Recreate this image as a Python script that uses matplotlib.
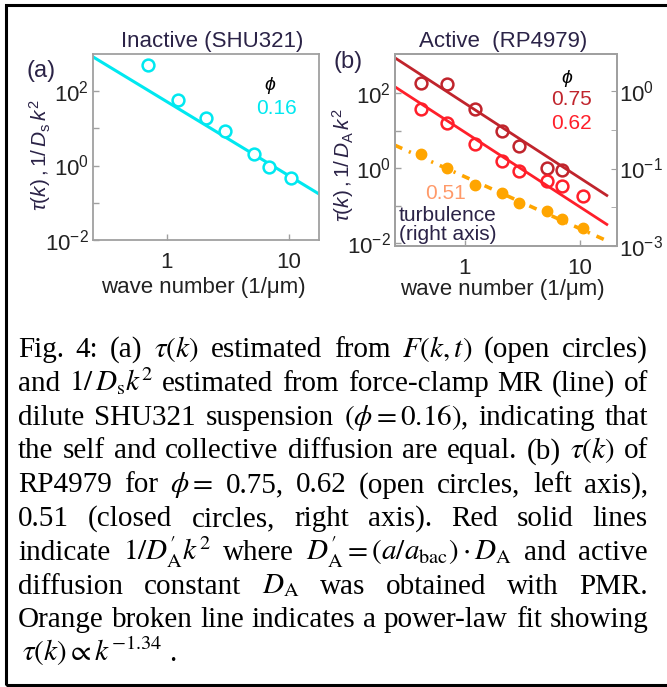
import numpy as np
import matplotlib
matplotlib.use('Agg')
from matplotlib import pyplot as plt
from matplotlib.patches import Rectangle
from matplotlib.ticker import NullLocator

# panel (a): inactive SHU321, phi = 0.16
k_a = [0.70, 1.23, 2.11, 3.0, 5.2, 6.9, 10.3]
tau_a = [516, 57, 18.6, 8.7, 2.07, 0.94, 0.45]
amp_a = 53.0          # 1/(Ds k^2) at k = 1

# panel (b): active RP4979
k_b = [0.42, 0.70, 1.22, 2.10, 2.98, 5.2, 6.9, 10.5]
tau_075 = [186, 174, 38, 9.8, 4.0, 1.04, 0.90]
tau_062 = [37.6, 16.5, 4.45, 1.54, 0.85, 0.46, 0.34, 0.18]
tau_051 = [0.156, 0.101, 0.061, 0.048, 0.036, 0.028, 0.022, 0.017]   # right axis
amp_075 = 55.0
amp_062 = 9.3
fit_amp = 0.0785
fit_exp = -0.675

x_ticks = [1, 10]
x_labels = ['1', '10']
left_ticks = [1e-2, 1e0, 1e2]
left_labels = ['$10^{-2}$', '$10^{0}$', '$10^{2}$']
left_minor = [1e-1, 1e1]
right_ticks = [1e-2, 1e-1, 1e0]
right_labels = ['$10^{-3}$', '$10^{-1}$', '$10^{0}$']
right_minor = [10 ** -1.5, 10 ** -0.5]

caption = [
    ['Fig.', '4:', '(a)', r'$\tau(k)$', 'estimated', 'from', r'$F(k,t)$', '(open', 'circles)'],
    ['and', r'$1/\,D_{\rm s}k^2$', 'estimated', 'from', 'force-clamp', 'MR', '(line)', 'of'],
    ['dilute', 'SHU321', 'suspension', r'$(\phi=0.16)$,', 'indicating', 'that'],
    ['the', 'self', 'and', 'collective', 'diffusion', 'are', 'equal.', '(b)', r'$\tau(k)$', 'of'],
    ['RP4979', 'for', r'$\phi=$', '0.75,', '0.62', '(open', 'circles,', 'left', 'axis),'],
    ['0.51', '(closed', 'circles,', 'right', 'axis).', 'Red', 'solid', 'lines'],
    ['indicate', r'$1/D_{\rm A}^{\prime}k^2$', 'where',
     r'$D_{\rm A}^{\prime}=(a/a_{\rm bac})\cdot D_{\rm A}$', 'and', 'active'],
    ['diffusion', 'constant', r'$D_{\rm A}$', 'was', 'obtained', 'with', 'PMR.'],
    ['Orange', 'broken', 'line', 'indicates', 'a', 'power-law', 'fit', 'showing'],
    [r'$\tau(k)\propto k^{-1.34}$', '.'],
]

plt.rcParams['font.family'] = ['Liberation Sans', 'DejaVu Sans']
plt.rcParams['mathtext.fontset'] = 'custom'
plt.rcParams['mathtext.rm'] = 'Liberation Sans'
plt.rcParams['mathtext.it'] = 'Liberation Sans:italic'
plt.rcParams['mathtext.bf'] = 'Liberation Sans:bold'

W, H = 667, 687
fig = plt.figure(figsize=(W / 100, H / 100), dpi=100)


def fx(x):
    return x / W


def fy(y):
    return 1 - y / H


spine_c = '#a0a0a0'
text_c = '#2b2347'
cyan = '#00e8f0'
dark_red = '#c0242c'
red = '#ff1f2a'
orange = '#ffa500'


def style(ax, ylim):
    ax.set_xscale('log')
    ax.set_yscale('log')
    ax.set_ylim(*ylim)
    ax.set_xticks(x_ticks, labels=x_labels)
    ax.xaxis.set_minor_locator(NullLocator())
    ax.set_yticks(left_ticks, labels=left_labels)
    ax.set_yticks(left_minor, minor=True)
    ax.yaxis.set_minor_formatter(plt.NullFormatter())
    for s in ax.spines.values():
        s.set_color(spine_c)
        s.set_linewidth(1.3)
    ax.tick_params(which='both', direction='in', length=4, color=spine_c,
                   labelcolor='#222222', labelsize=16, width=1.0)
    ax.tick_params(axis='x', pad=9)
    ax.tick_params(axis='y', pad=3)


# ---- panel (a)
ax_a = fig.add_axes([fx(92.7), fy(239.7), (319.3 - 92.7) / W, (239.7 - 54.3) / H])
style(ax_a, (1e-2, 1e3))
ax_a.set_xlim(0.248, 17.7)
kk = np.geomspace(0.248, 17.7, 60)
ax_a.plot(kk, amp_a / kk ** 2, color=cyan, lw=2.2)
ax_a.plot(k_a, tau_a, 'o', mfc='white', mec=cyan, ms=8.5, mew=1.8)
ax_a.text(0.782, 0.834, r'$\phi$', transform=ax_a.transAxes, ha='center', va='center',
          fontsize=14, color='black')
ax_a.text(0.813, 0.71, '0.16', transform=ax_a.transAxes, ha='center', va='center',
          fontsize=15, color=cyan)

# ---- panel (b)
ax_b = fig.add_axes([fx(395), fy(245.7), (616.7 - 395) / W, (245.7 - 54.3) / H])
style(ax_b, (10 ** -2.06, 10 ** 3.04))
ax_b.set_xlim(0.25, 20.7)
kk = np.geomspace(0.25, 17, 60)
ax_b.plot(kk, amp_075 / kk ** 2, color=dark_red, lw=2.0)
ax_b.plot(kk, amp_062 / kk ** 2, color=red, lw=2.0)
ax_b.plot(k_b[:len(tau_075)], tau_075, 'o', mfc='none', mec=dark_red, ms=8.5, mew=1.8)
ax_b.plot(k_b, tau_062, 'o', mfc='none', mec=red, ms=8.5, mew=1.8)

ax_r = ax_b.twinx()
ax_r.set_yscale('log')
ax_r.set_ylim(1e-2, 10 ** 0.48)
ax_r.set_yticks(right_ticks, labels=right_labels)
ax_r.set_yticks(right_minor, minor=True)
ax_r.yaxis.set_minor_formatter(plt.NullFormatter())
for s in ax_r.spines.values():
    s.set_color(spine_c)
    s.set_linewidth(1.3)
ax_r.tick_params(which='both', direction='in', length=4, color=spine_c,
                 labelcolor='#222222', labelsize=16, pad=2)
ax_r.plot(kk, fit_amp * kk ** fit_exp, color=orange, lw=2.6,
          linestyle=(0, (2.2, 2.0, 0.6, 2.0)))
ax_r.plot(k_b, tau_051, 'o', color=orange, ms=7.5, mec=orange)

ax_b.text(0.776, 0.871, r'$\phi$', transform=ax_b.transAxes, ha='center', va='center',
          fontsize=14, color='black')
ax_b.text(0.798, 0.766, '0.75', transform=ax_b.transAxes, ha='center', va='center',
          fontsize=15, color=dark_red)
ax_b.text(0.798, 0.641, '0.62', transform=ax_b.transAxes, ha='center', va='center',
          fontsize=15, color=red)
ax_b.text(0.23, 0.275, '0.51', transform=ax_b.transAxes, ha='center', va='center',
          fontsize=15, color='#ff9a6a')
ax_b.text(0.018, 0.16, 'turbulence', transform=ax_b.transAxes, ha='left', va='center',
          fontsize=15, color=text_c)
ax_b.text(0.018, 0.056, '(right axis)', transform=ax_b.transAxes, ha='left', va='center',
          fontsize=15, color=text_c)

# ---- titles, panel letters, axis labels
fig.text(fx(211.7), fy(41.7), 'Inactive (SHU321)', ha='center', va='center',
         fontsize=16, color=text_c)
fig.text(fx(503), fy(41.7), 'Active  (RP4979)', ha='center', va='center',
         fontsize=16, color=text_c)
fig.text(fx(41), fy(71), '(a)', ha='center', va='center', fontsize=17, color=text_c)
fig.text(fx(348), fy(62), '(b)', ha='center', va='center', fontsize=17, color=text_c)
fig.text(fx(40), fy(155), r'$\tau(k)\,,1/\,D_{\rm s}\,k^2$', rotation=90,
         ha='center', va='center', fontsize=15, color=text_c)
fig.text(fx(343), fy(165), r'$\tau(k)\,,1/\,D_{\rm A}\,k^2$', rotation=90,
         ha='center', va='center', fontsize=15, color=text_c)
fig.text(fx(203), fy(288), 'wave number (1/\u03bcm)', ha='center', va='center',
         fontsize=16, color='#222222')
fig.text(fx(502), fy(290), 'wave number (1/\u03bcm)', ha='center', va='center',
         fontsize=16, color='#222222')

# ---- frame
fig.add_artist(Rectangle((fx(5.5), fy(685.3)), 2, (685.3 - 4.7) / H,
                         transform=fig.transFigure, fill=False, ec='black',
                         lw=2.2, clip_on=False))

# ---- justified caption
fs = 21
fig.canvas.draw()
rend = fig.canvas.get_renderer()
left, right = 18, 648
for i, words in enumerate(caption):
    yb = fy(357 + i * 33.8)
    arts = [fig.text(0, yb, w, fontsize=fs, family='Liberation Serif',
                     math_fontfamily='stix', va='baseline', color='black')
            for w in words]
    widths = [a.get_window_extent(rend).width for a in arts]
    if i == len(caption) - 1:
        gap = 0.25 * fs * 100 / 72
    else:
        gap = (right - left - sum(widths)) / (len(words) - 1)
    x = left + (4 if i == len(caption) - 1 else 0)
    for a, w in zip(arts, widths):
        a.set_x(fx(x))
        x += w + gap

fig.savefig('out.png', dpi=100)
